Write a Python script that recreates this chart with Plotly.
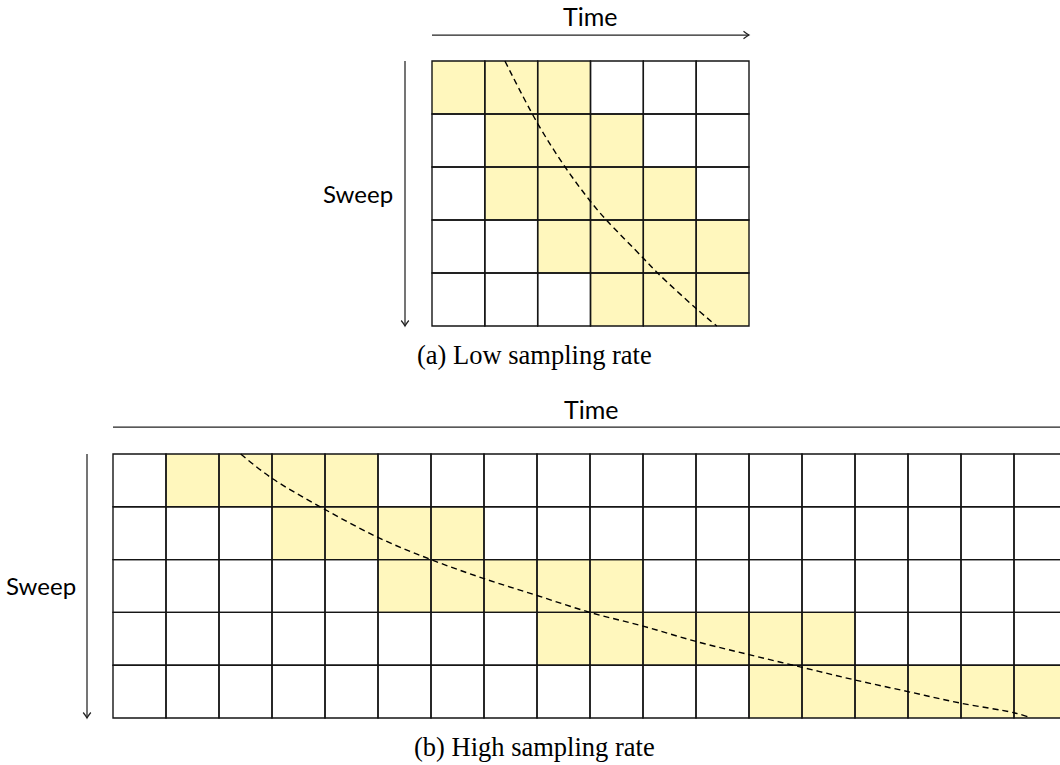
import plotly.graph_objects as go

# ---------------- data ----------------
n_rows = 5
top_cols = 6
bottom_cols = 18

# highlighted cells per sweep row: (first column, last column), inclusive
top_highlight = [(0, 2), (1, 3), (1, 4), (2, 5), (3, 5)]
bottom_highlight = [(1, 4), (3, 6), (5, 9), (8, 13), (12, 17)]

# dashed curves (time in columns, sweep in rows)
top_curve_t = [1.38, 2.0, 2.52, 3.0, 3.3, 4.0, 4.27, 5.0, 5.39]
top_curve_s = [0.0, 1.18, 2.0, 2.65, 3.0, 3.72, 4.0, 4.67, 5.0]
bottom_curve_t = [2.41, 3.0, 3.91, 5.0, 6.0, 7.0, 8.0, 9.0, 10.0, 11.0, 12.0,
                  13.0, 14.0, 15.0, 16.0, 17.0, 17.27]
bottom_curve_s = [0.0, 0.46, 1.0, 1.58, 2.0, 2.36, 2.68, 3.0, 3.26, 3.55, 3.8,
                  4.04, 4.28, 4.5, 4.72, 4.9, 4.98]

axis_label_time = "Time"
axis_label_sweep = "Sweep"
caption_a = "(a) Low sampling rate"
caption_b = "(b) High sampling rate"

# ---------------- layout constants ----------------
W, H = 1060, 765
FILL = "#FFF7BD"
GRID = "#151515"
SANS = "Lato, 'Open Sans', sans-serif"
SERIF = "'Liberation Serif', 'DejaVu Serif', serif"
PAD = 2.0


def px(x):
    return x / W


def py(y):
    return 1 - y / H


# pixel extents of each grid
top_box = dict(x0=432, x1=749, y0=61, y1=326)
bot_box = dict(x0=113, y0=454, y1=718)
bot_cell = 53.0

fig = go.Figure()

tcw = (top_box["x1"] - top_box["x0"]) / top_cols
tch = (top_box["y1"] - top_box["y0"]) / n_rows
fig.update_layout(
    xaxis=dict(domain=[px(top_box["x0"] - PAD), px(top_box["x1"] + PAD)],
               range=[-PAD / tcw, top_cols + PAD / tcw], visible=False,
               fixedrange=True, anchor="y"),
    yaxis=dict(domain=[py(top_box["y1"] + PAD), py(top_box["y0"] - PAD)],
               range=[n_rows + PAD / tch, -PAD / tch], visible=False,
               fixedrange=True, anchor="x"),
)
bch = (bot_box["y1"] - bot_box["y0"]) / n_rows
fig.update_layout(
    xaxis2=dict(domain=[px(bot_box["x0"] - PAD), 1.0],
                range=[-PAD / bot_cell, (W - bot_box["x0"]) / bot_cell],
                visible=False, fixedrange=True, anchor="y2"),
    yaxis2=dict(domain=[py(bot_box["y1"] + PAD), py(bot_box["y0"] - PAD)],
                range=[n_rows + PAD / bch, -PAD / bch], visible=False,
                fixedrange=True, anchor="x2"),
)

shapes = []


def add_grid(ncols, highlight, xref, yref):
    for r, (c0, c1) in enumerate(highlight):
        for c in range(c0, c1 + 1):
            shapes.append(dict(type="rect", xref=xref, yref=yref,
                               x0=c, x1=c + 1, y0=r, y1=r + 1,
                               fillcolor=FILL, line=dict(width=0),
                               layer="below"))
    for r in range(n_rows):
        for c in range(ncols):
            shapes.append(dict(type="rect", xref=xref, yref=yref,
                               x0=c, x1=c + 1, y0=r, y1=r + 1,
                               fillcolor="rgba(0,0,0,0)",
                               line=dict(color=GRID, width=1.4),
                               layer="below"))


add_grid(top_cols, top_highlight, "x", "y")
add_grid(bottom_cols, bottom_highlight, "x2", "y2")

DASH = dict(color="black", width=1.4, dash="6px,4px", shape="spline",
            smoothing=1.0)
fig.add_trace(go.Scatter(x=top_curve_t, y=top_curve_s, mode="lines",
                         line=DASH, xaxis="x", yaxis="y", hoverinfo="skip",
                         showlegend=False))
fig.add_trace(go.Scatter(x=bottom_curve_t, y=bottom_curve_s, mode="lines",
                         line=DASH, xaxis="x2", yaxis="y2", hoverinfo="skip",
                         showlegend=False))

ARROW = "#222222"
AW = 1.25


def hline(x0, x1, y, head=True):
    shapes.append(dict(type="line", xref="paper", yref="paper",
                       x0=px(x0), x1=px(x1), y0=py(y), y1=py(y),
                       line=dict(color=ARROW, width=AW)))
    if head:
        p = (f"M {px(x1 - 5.5)},{py(y - 3.8)} Q {px(x1 - 2)},{py(y - 1)} {px(x1)},{py(y)} "
             f"Q {px(x1 - 2)},{py(y + 1)} {px(x1 - 5.5)},{py(y + 3.8)}")
        shapes.append(dict(type="path", xref="paper", yref="paper", path=p,
                           line=dict(color=ARROW, width=AW)))


def vline(x, y0, y1):
    shapes.append(dict(type="line", xref="paper", yref="paper",
                       x0=px(x), x1=px(x), y0=py(y0), y1=py(y1),
                       line=dict(color=ARROW, width=AW)))
    p = (f"M {px(x - 3.8)},{py(y1 - 5.5)} Q {px(x - 1)},{py(y1 - 2)} {px(x)},{py(y1)} "
         f"Q {px(x + 1)},{py(y1 - 2)} {px(x + 3.8)},{py(y1 - 5.5)}")
    shapes.append(dict(type="path", xref="paper", yref="paper", path=p,
                       line=dict(color=ARROW, width=AW)))


hline(432, 749, 35)
vline(405, 61, 326)
hline(113, 1060, 427, head=False)
vline(87, 454, 718)

fig.update_layout(shapes=shapes)

ann = []


def text(t, x, y, font, size, xanchor="center"):
    ann.append(dict(text=t, x=px(x), y=py(y), xref="paper", yref="paper",
                    xanchor=xanchor, yanchor="middle", showarrow=False,
                    font=dict(family=font, size=size, color="black")))


text(axis_label_time, 590, 16, SANS, 25)
text(axis_label_sweep, 395, 193, SANS, 24, xanchor="right")
text(caption_a, 534, 355, SERIF, 26.5)
text(axis_label_time, 591, 409, SANS, 25)
text(axis_label_sweep, 78, 585, SANS, 24, xanchor="right")
text(caption_b, 534, 747, SERIF, 26.5)

fig.update_layout(annotations=ann, width=W, height=H,
                  margin=dict(l=0, r=0, t=0, b=0),
                  paper_bgcolor="white", plot_bgcolor="rgba(0,0,0,0)")

fig.write_html("out.html")
